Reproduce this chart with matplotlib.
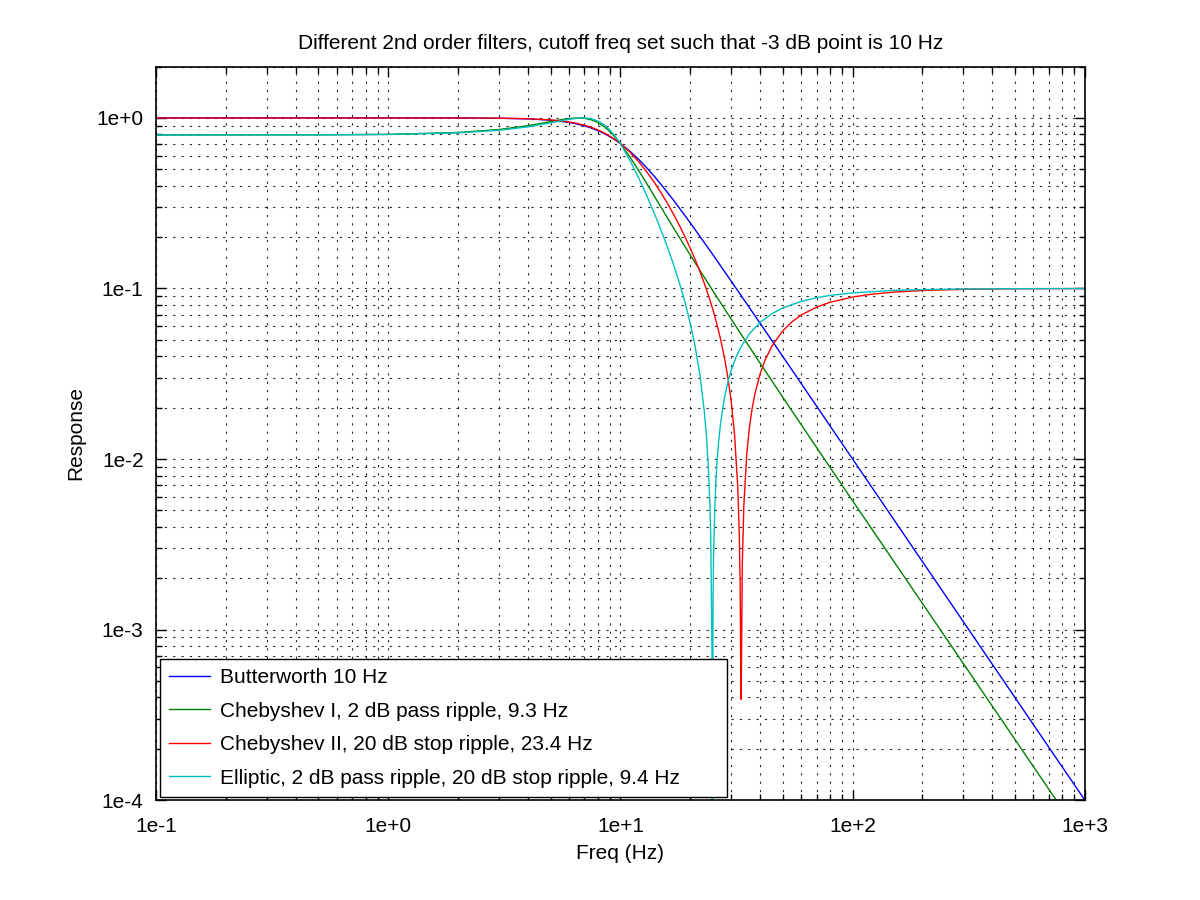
import matplotlib.pyplot as plt
from matplotlib.ticker import LogLocator, NullFormatter

plt.rcParams['font.family'] = ['Liberation Sans', 'DejaVu Sans']

# Butterworth 10 Hz
f_butter = [0.1, 1, 2, 3, 4, 5, 5.5, 6, 6.5, 7, 7.5, 8, 8.5, 9, 9.5, 10, 11, 12, 13, 14, 15,
            17, 20, 25, 30, 35, 40, 50, 60, 70, 100, 1000]
h_butter = [1.0, 1.0, 0.9992, 0.996, 0.9874, 0.970, 0.9572, 0.941, 0.9212, 0.898, 0.8716,
            0.842, 0.8106, 0.777, 0.7424, 0.707, 0.637, 0.5705, 0.5092, 0.4545, 0.406,
            0.327, 0.2425, 0.158, 0.1104, 0.0814, 0.0624, 0.04, 0.02777, 0.0204, 0.01, 0.0001]

# Chebyshev I, 2 dB pass ripple, 9.3 Hz
f_cheby1 = [0.1, 0.5, 1, 2, 3, 4, 5, 5.5, 6, 6.58, 7, 7.5, 8, 8.5, 9, 9.5, 10, 11, 12, 13,
            15, 17, 20, 25, 30, 40, 50, 70, 100, 1000]
h_cheby1 = [0.7943, 0.7960, 0.801, 0.8215, 0.8552, 0.9007, 0.9513, 0.9743, 0.9917, 1.0,
            0.995, 0.9750, 0.9397, 0.8909, 0.8328, 0.7703, 0.707, 0.5894, 0.4905, 0.4111,
            0.2977, 0.2248, 0.1569, 0.0970, 0.0661, 0.0364, 0.02306, 0.01167, 0.00569, 5.67e-5]

# Chebyshev II, 20 dB stop ripple, 23.4 Hz
f_cheby2 = [0.1, 1, 2, 3, 4, 5, 5.5, 6, 6.5, 7, 7.5, 8, 8.5, 9, 9.5, 10, 11, 12, 13, 14, 15,
            16, 17, 18, 19, 20, 21, 22, 23.4, 24, 25, 26, 27, 28, 29, 30, 31, 32, 32.5, 32.8,
            33, 33.12, 33.5, 34, 35, 36, 37, 38, 40, 42, 45, 50, 55, 60, 70, 80, 100, 120,
            150, 200, 300, 500, 1000]
h_cheby2 = [1.0, 1.0, 0.9999, 0.9966, 0.9893, 0.974, 0.9623, 0.9473, 0.9287, 0.9064, 0.8804,
            0.8508, 0.8181, 0.7829, 0.7456, 0.707, 0.6290, 0.553, 0.4824, 0.4187, 0.3623,
            0.3129, 0.2699, 0.2326, 0.2002, 0.172, 0.1474, 0.1259, 0.1, 0.0902, 0.0754,
            0.06219, 0.05041, 0.0399, 0.03035, 0.0218, 0.014025, 0.00698, 0.003698, 0.001801,
            0.000565, 0.00039, 0.00243, 0.00529, 0.01066, 0.01558, 0.0201, 0.02428, 0.0317,
            0.0381, 0.0461, 0.0564, 0.06399, 0.0698, 0.0778, 0.0830, 0.0891, 0.09246, 0.0952,
            0.0973, 0.0988, 0.0996, 0.0999]

# Elliptic, 2 dB pass ripple, 20 dB stop ripple, 9.4 Hz
f_ellip = [0.1, 0.5, 1, 2, 3, 4, 5, 5.5, 6, 6.5, 6.9, 7, 7.5, 8, 8.5, 9, 9.4, 9.7, 10, 11,
           12, 13, 14, 15, 16, 17, 18, 19, 20, 21, 22, 23, 23.5, 24, 24.3, 24.5, 24.8, 24.88,
           25.05, 25.2, 25.5, 25.8, 26, 26.5, 27, 28, 29, 30, 31.5, 33, 36, 40, 45, 50, 60,
           70, 80, 100, 150, 200, 300, 500, 1000]
h_ellip = [0.7944, 0.7960, 0.8000, 0.8173, 0.8464, 0.8868, 0.9354, 0.9597, 0.9810, 0.9958,
           1.0, 0.9997, 0.9885, 0.9593, 0.9122, 0.8506, 0.7943, 0.7502, 0.707, 0.5632,
           0.4437, 0.3491, 0.2754, 0.2178, 0.1724, 0.1361, 0.1067, 0.08248, 0.0624, 0.04546,
           0.03112, 0.01882, 0.01333, 0.008213, 0.005313, 0.003445, 0.000737, 1e-5, 0.001437,
           0.002709, 0.005175, 0.007546, 0.00908, 0.01274, 0.01618, 0.02247, 0.02807, 0.03308,
           0.03965, 0.04529, 0.05439, 0.06335, 0.07124, 0.07682, 0.08401, 0.08830, 0.09105,
           0.09424, 0.09744, 0.09853, 0.09933, 0.0997, 0.0999]

labels = ['Butterworth 10 Hz',
          'Chebyshev I, 2 dB pass ripple, 9.3 Hz',
          'Chebyshev II, 20 dB stop ripple, 23.4 Hz',
          'Elliptic, 2 dB pass ripple, 20 dB stop ripple, 9.4 Hz']

x_ticks = [0.1, 1, 10, 100, 1000]
x_tick_labels = ['1e-1', '1e+0', '1e+1', '1e+2', '1e+3']
y_ticks = [1e-4, 1e-3, 1e-2, 1e-1, 1]
y_tick_labels = ['1e-4', '1e-3', '1e-2', '1e-1', '1e+0']

fs = 15

fig = plt.figure(figsize=(12, 9), dpi=100)
ax = fig.add_axes([0.13, 0.111, 0.774, 0.815])

ax.loglog(f_butter, h_butter, color=(0, 0, 1), lw=1.0, label=labels[0])
ax.loglog(f_cheby1, h_cheby1, color=(0, 0.5, 0), lw=1.0, label=labels[1])
ax.loglog(f_cheby2, h_cheby2, color=(1, 0, 0), lw=1.0, label=labels[2])
ax.loglog(f_ellip, h_ellip, color=(0, 0.75, 0.75), lw=1.0, label=labels[3])

ax.set_xlim(0.1, 1000)
ax.set_ylim(1e-4, 2)
ax.set_xticks(x_ticks)
ax.set_xticklabels(x_tick_labels)
ax.set_yticks(y_ticks)
ax.set_yticklabels(y_tick_labels)
ax.xaxis.set_minor_locator(LogLocator(base=10, subs=range(2, 10), numticks=20))
ax.yaxis.set_minor_locator(LogLocator(base=10, subs=range(2, 10), numticks=20))
ax.xaxis.set_minor_formatter(NullFormatter())
ax.yaxis.set_minor_formatter(NullFormatter())

ax.tick_params(which='both', direction='in', top=True, right=True, labelsize=fs, color='k')
ax.tick_params(which='major', length=7, width=1)
ax.tick_params(which='minor', length=4, width=1)
ax.tick_params(axis='x', which='major', pad=12)
ax.tick_params(axis='y', which='major', pad=9)
for s in ax.spines.values():
    s.set_linewidth(1.2)
    s.set_color('k')

ax.grid(True, which='both', color='k', linestyle=(0, (2, 5.5)), linewidth=0.8, alpha=0.85)
ax.set_axisbelow(True)

ax.set_xlabel('Freq (Hz)', fontsize=fs, labelpad=6)
ax.set_ylabel('Response', fontsize=fs, labelpad=8)
ax.set_title('Different 2nd order filters, cutoff freq set such that -3 dB point is 10 Hz',
             fontsize=fs, pad=13)

# legend box stretched to the width used in the original
leg = ax.legend(loc='lower left', bbox_to_anchor=(0.0043, 0.004, 0.61, 0.187), mode='expand',
                fontsize=fs, frameon=True, fancybox=False, edgecolor='k', framealpha=1,
                borderaxespad=0, handlelength=1.95, labelspacing=0.7, borderpad=0.45,
                handletextpad=0.5)
leg.get_frame().set_linewidth(1.0)
leg.set_zorder(5)

fig.savefig('out.png', dpi=100)
